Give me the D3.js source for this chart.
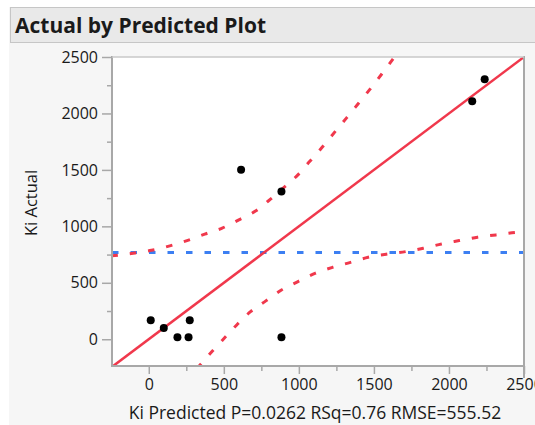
<!DOCTYPE html>
<html><head><meta charset="utf-8">
<script src="https://cdn.jsdelivr.net/npm/d3@7"></script>
<style>
html,body{margin:0;padding:0;background:#fff;}
svg{display:block;font-family:"Open Sans","Noto Sans",sans-serif;}
</style></head>
<body>
<svg id="c" width="535" height="425"></svg>
<script>
// Data
const predicted = [13, 100, 191, 265, 273, 615, 884, 884, 2155, 2238];
const actual    = [169, 100, 18, 18, 169, 1502, 1309, 18, 2109, 2302];
const meanActual = 768;
const fitLine = [[-245, -245], [2500, 2500]];
const upperX = [-249, -104, 18, 140, 255, 373, 489, 600, 711, 811, 895, 995, 1073, 1155, 1240, 1318, 1395, 1473, 1551, 1629, 1660];
const upperY = [738, 762, 788, 827, 874, 931, 984, 1058, 1135, 1241, 1339, 1458, 1576, 1700, 1837, 1961, 2086, 2213, 2347, 2486, 2540];
const lowerX = [320, 340, 418, 507, 589, 678, 780, 884, 991, 1107, 1224, 1344, 1462, 1582, 1711, 1829, 1951, 2069, 2191, 2313, 2440, 2510];
const lowerY = [-260, -231, -113, 15, 131, 244, 340, 436, 509, 583, 637, 681, 726, 753, 776, 806, 844, 874, 904, 924, 945, 952];
const xTicks = [0, 500, 1000, 1500, 2000, 2500];
const yTicks = [0, 500, 1000, 1500, 2000, 2500];
const minorTicks = [-250, 250, 750, 1250, 1750, 2250];
const title = "Actual by Predicted Plot";
const xLabel = "Ki Predicted P=0.0262 RSq=0.76 RMSE=555.52";
const yLabel = "Ki Actual";

const svg = d3.select("#c");
const L = 112, R = 524, T = 57, B = 366;
const x = d3.scaleLinear().domain([-245, 2500]).range([L, R]);
const y = d3.scaleLinear().domain([-237, 2500]).range([B, T]);

// backgrounds
svg.append("rect").attr("x", 9).attr("y", 0).attr("width", 526).attr("height", 425).attr("fill", "#f6f6f6");
svg.append("rect").attr("x", 0).attr("y", 0).attr("width", 535).attr("height", 7).attr("fill", "#fff");
svg.append("rect").attr("x", 10.5).attr("y", 7.5).attr("width", 530).attr("height", 35)
  .attr("fill", "#e9e9e9").attr("stroke", "#c6c6c6").attr("stroke-width", 1);
svg.append("text").attr("x", 15).attr("y", 33).attr("font-size", 21).attr("font-weight", "bold")
  .attr("fill", "#1a1a1a").text(title);

svg.append("rect").attr("x", L).attr("y", T).attr("width", R - L).attr("height", B - T).attr("fill", "#fff");

svg.append("clipPath").attr("id", "clip").append("rect")
  .attr("x", L).attr("y", T).attr("width", R - L).attr("height", B - T);
const g = svg.append("g").attr("clip-path", "url(#clip)");

const red = "#f0384c", blue = "#3c7ff2";
g.append("line").attr("x1", x(-245)).attr("x2", x(2500)).attr("y1", y(meanActual)).attr("y2", y(meanActual))
  .attr("stroke", blue).attr("stroke-width", 3).attr("stroke-dasharray", "6.5,12");
const line = d3.line().x(d => x(d[0])).y(d => y(d[1])).curve(d3.curveMonotoneX);
g.append("path").attr("d", line(upperX.map((v, i) => [v, upperY[i]])))
  .attr("fill", "none").attr("stroke", red).attr("stroke-width", 3).attr("stroke-dasharray", "6.5,12");
g.append("path").attr("d", line(lowerX.map((v, i) => [v, lowerY[i]])))
  .attr("fill", "none").attr("stroke", red).attr("stroke-width", 3).attr("stroke-dasharray", "6.5,12");
g.append("path").attr("d", d3.line().x(d => x(d[0])).y(d => y(d[1]))(fitLine))
  .attr("fill", "none").attr("stroke", red).attr("stroke-width", 2.5);

g.selectAll("circle").data(predicted.map((p, i) => [p, actual[i]])).join("circle")
  .attr("cx", d => x(d[0])).attr("cy", d => y(d[1])).attr("r", 4).attr("fill", "#000");

// axes
const axisColor = "#a8a8a8";
const fmt = d3.format("d");
const yAxis = svg.append("g").attr("transform", `translate(${L},0)`)
  .call(d3.axisLeft(y).tickValues(yTicks).tickSize(10).tickPadding(4).tickFormat(fmt));
const xAxis = svg.append("g").attr("transform", `translate(0,${B})`)
  .call(d3.axisBottom(x).tickValues(xTicks).tickSize(8).tickPadding(5).tickFormat(fmt));
[yAxis, xAxis].forEach(a => {
  a.select(".domain").remove();
  a.selectAll("line").attr("stroke", axisColor).attr("stroke-width", 1.5);
  a.selectAll("text").attr("font-size", 16).attr("fill", "#1a1a1a").attr("font-family", "Open Sans, sans-serif");
});
svg.append("g").attr("transform", `translate(${L},0)`)
  .call(d3.axisLeft(y).tickValues(minorTicks.filter(v => v > -237)).tickSize(5).tickFormat(""))
  .call(a => { a.select(".domain").remove(); a.selectAll("line").attr("stroke", axisColor).attr("stroke-width", 1.5); });
svg.append("g").attr("transform", `translate(0,${B})`)
  .call(d3.axisBottom(x).tickValues(minorTicks.filter(v => v > -245)).tickSize(5).tickFormat(""))
  .call(a => { a.select(".domain").remove(); a.selectAll("line").attr("stroke", axisColor).attr("stroke-width", 1.5); });

// frame
svg.append("line").attr("x1", L).attr("x2", L).attr("y1", T - 1).attr("y2", B + 1).attr("stroke", axisColor).attr("stroke-width", 2);
svg.append("line").attr("x1", L - 1).attr("x2", R + 1).attr("y1", B).attr("y2", B).attr("stroke", axisColor).attr("stroke-width", 2);
svg.append("line").attr("x1", R).attr("x2", R).attr("y1", T - 1).attr("y2", B + 12).attr("stroke", axisColor).attr("stroke-width", 2);
svg.append("line").attr("x1", L).attr("x2", R).attr("y1", T).attr("y2", T).attr("stroke", "#c8c8c8").attr("stroke-width", 1.5);

// labels
svg.append("text").attr("x", 315).attr("y", 419).attr("text-anchor", "middle").attr("font-size", 17.5)
  .attr("fill", "#1a1a1a").text(xLabel);
svg.append("text").attr("transform", "translate(37,203) rotate(-90)").attr("text-anchor", "middle")
  .attr("font-size", 16.5).attr("fill", "#1a1a1a").text(yLabel);
</script>
</body></html>
